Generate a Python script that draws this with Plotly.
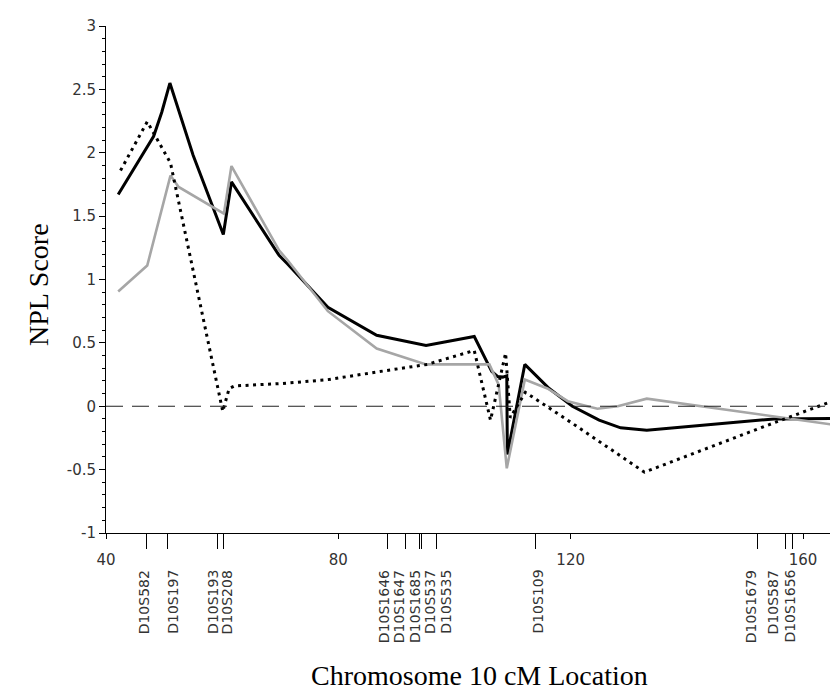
import plotly.graph_objects as go

# ---------------- data ----------------
solid_cm = [42.1, 48.2, 49.6, 51.0, 55.0, 60.2, 61.6, 69.8, 71.3, 78.2, 86.6, 95.1,
            103.4, 106.4, 107.4, 108.3, 109.0, 109.1, 112.1, 116.3, 120.3, 124.9,
            128.6, 133.1, 149.9, 155.0, 167.4]
solid_npl = [1.67, 2.13, 2.32, 2.55, 1.98, 1.355, 1.77, 1.19, 1.12, 0.78, 0.56, 0.48,
             0.55, 0.275, 0.235, 0.23, 0.24, -0.38, 0.33, 0.14, 0.0, -0.11,
             -0.17, -0.19, -0.12, -0.10, -0.095]

grey_cm = [42.1, 47.1, 51.1, 52.5, 60.3, 61.6, 69.8, 71.3, 78.2, 86.6, 95.1, 106.0,
           107.6, 109.0, 112.1, 116.0, 119.5, 124.6, 128.1, 133.1, 167.4]
grey_npl = [0.905, 1.11, 1.82, 1.73, 1.52, 1.895, 1.23, 1.15, 0.75, 0.455, 0.33, 0.33,
            0.17, -0.49, 0.21, 0.14, 0.04, -0.02, 0.0, 0.06, -0.16]

dot_cm = [42.5, 47.1, 51.1, 60.1, 61.2, 62.1, 70.4, 78.2, 86.6, 95.3, 103.4, 106.2,
          108.8, 109.6, 112.2, 120.3, 132.7, 153.3, 167.4]
dot_npl = [1.86, 2.245, 1.92, -0.04, 0.14, 0.16, 0.18, 0.21, 0.27, 0.33, 0.44, -0.11,
           0.42, -0.09, 0.11, -0.135, -0.52, -0.16, 0.08]

marker_names = ["D10S582", "D10S197", "D10S193", "D10S208", "D10S1646", "D10S1647",
                "D10S1685", "D10S537", "D10S535", "D10S109", "D10S1679", "D10S587",
                "D10S1656"]
marker_cm = [47.0, 50.6, 59.2, 60.3, 88.5, 91.5, 94.0, 94.4, 96.9, 114.0, 152.1,
             156.9, 158.2]

x_ticks = [40, 80, 120, 160]
y_ticks = [-1, -0.5, 0, 0.5, 1, 1.5, 2, 2.5, 3]

# ---------------- layout constants ----------------
X_RANGE = [40, 167.4]
Y_RANGE = [-1, 3]
# horizontal placement of the rotated marker names (spread apart where crowded)
label_cm = [46.6, 51.5, 58.4, 60.9, 87.8, 90.4, 93.1, 95.8, 98.5, 114.3, 151.0,
            154.9, 157.6]

W, H = 838, 691
ML, MR, MT, MB = 98, 0, 18, 166
plot_h = H - MT - MB
plot_w = W - ML - MR

fig = go.Figure()
fig.add_trace(go.Scatter(x=solid_cm, y=solid_npl, mode="lines",
                         line=dict(color="black", width=3), showlegend=False))
fig.add_trace(go.Scatter(x=grey_cm, y=grey_npl, mode="lines",
                         line=dict(color="#a6a6a6", width=2.6), showlegend=False))
fig.add_trace(go.Scatter(x=dot_cm, y=dot_npl, mode="lines",
                         line=dict(color="black", width=3, dash="3px,4.5px"),
                         showlegend=False))

fig.add_hline(y=0, line=dict(color="#222", width=1.2, dash="17px,9px"))

tick_font = dict(family="DejaVu Sans", size=15, color="#333")

fig.update_layout(
    width=W, height=H,
    margin=dict(l=ML, r=MR, t=MT, b=MB, autoexpand=False),
    paper_bgcolor="white", plot_bgcolor="white",
    xaxis=dict(range=X_RANGE, tickvals=x_ticks, ticktext=[str(v) for v in x_ticks],
               showgrid=False, zeroline=False, showline=True, linecolor="black",
               linewidth=1, ticks="outside", ticklen=5, tickcolor="black",
               tickfont=tick_font, ticklabelstandoff=8, automargin=False),
    xaxis2=dict(range=X_RANGE, overlaying="x", anchor="y", side="bottom",
                tickvals=marker_cm, showticklabels=False, showgrid=False,
                zeroline=False, showline=False, ticks="outside", ticklen=15,
                tickcolor="black", tickwidth=1, automargin=False),
    yaxis=dict(range=Y_RANGE, tickvals=y_ticks,
               ticktext=[("%g" % v) for v in y_ticks],
               showgrid=False, zeroline=False, showline=True, linecolor="black",
               linewidth=1, ticks="outside", ticklen=6, tickcolor="black",
               tickfont=tick_font, automargin=False,
               minor=dict(dtick=0.1, ticks="outside", ticklen=3, tickcolor="black")),
)

# invisible trace to anchor the marker-tick axis
fig.add_trace(go.Scatter(x=marker_cm, y=[None] * len(marker_cm), xaxis="x2",
                         mode="markers", showlegend=False, hoverinfo="skip"))

label_top = -(560 - (H - MB)) / plot_h
for name, xc in zip(marker_names, label_cm):
    fig.add_annotation(x=xc, xref="x", y=label_top, yref="paper", text=name,
                       textangle=-90, showarrow=False, xanchor="center",
                       yanchor="top", font=dict(family="DejaVu Sans", size=14,
                                                color="#333"))

fig.add_annotation(x=-(ML - 30) / plot_w, xref="paper", y=1 - (277 - MT) / plot_h,
                   yref="paper", text="NPL Score", textangle=-90, showarrow=False,
                   xanchor="center", yanchor="middle",
                   font=dict(family="Liberation Serif", size=28, color="black"))
fig.add_annotation(x=(472 - ML) / plot_w, xref="paper", y=-(668 - (H - MB)) / plot_h,
                   yref="paper", text="Chromosome 10 cM Location", showarrow=False,
                   xanchor="center", yanchor="middle",
                   font=dict(family="Liberation Serif", size=28, color="black"))

fig.write_html("out.html")
